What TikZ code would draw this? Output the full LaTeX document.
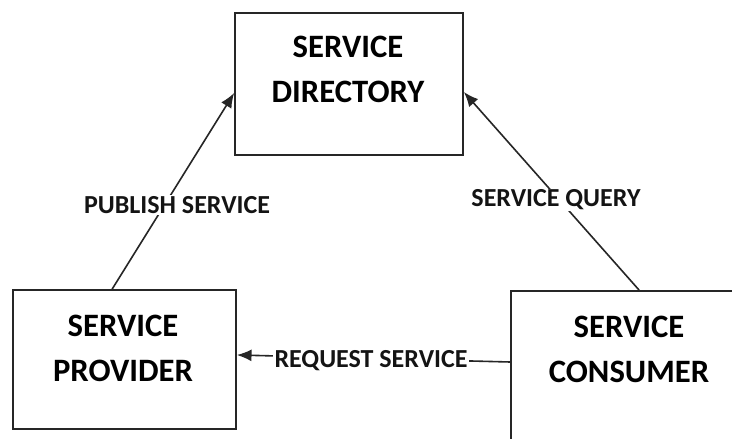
\documentclass[tikz,border=0pt]{standalone}
\usepackage{fontspec}
\setmainfont{Carlito}
\usetikzlibrary{arrows.meta}
\tikzset{
  box/.style={draw=black!85, line width=1.3pt, rectangle, inner sep=0pt},
  boxtext/.style={font=\fontsize{24.5}{33.75}\selectfont\bfseries, align=center, text=black},
  lbl/.style={font=\fontsize{19.5}{22}\selectfont\bfseries, fill=white, inner sep=1pt, text=black!92},
  arr/.style={draw=black!85, line width=1.2pt, -{Latex[length=11pt,width=9pt]}}
}
\begin{document}
\begin{tikzpicture}[x=0.75pt,y=-0.75pt]
\clip (0,0) rectangle (732,439);
\fill[white] (0,0) rectangle (732,439);
\node[box, minimum width=171pt, minimum height=106.5pt] (dir) at (349,84) {};
\node[box, minimum width=167.25pt, minimum height=104.25pt] (prov) at (124.5,359.5) {};
\node[box, minimum width=177pt, minimum height=123pt] (cons) at (629,373) {};
\node[boxtext] (dirt) at (348,69.5) {SERVICE\\DIRECTORY};
\node[boxtext] (provt) at (123,348) {SERVICE\\PROVIDER};
\node[boxtext] (const) at (629,349) {SERVICE\\CONSUMER};
\draw[arr] ([xshift=75pt]prov.north west) -- ([yshift=-6.75pt]dir.west);
\draw[arr] ([xshift=96.75pt]cons.north west) -- ([yshift=-6pt]dir.east);
\draw[arr] ([yshift=8.25pt]cons.west) -- ([yshift=3.4pt]prov.east);
\node[lbl] (pub) at (177,205) {PUBLISH SERVICE};
\node[lbl] (query) at (556,200) {SERVICE QUERY};
\node[lbl] (req) at (371,361) {REQUEST SERVICE};
\end{tikzpicture}
\end{document}
